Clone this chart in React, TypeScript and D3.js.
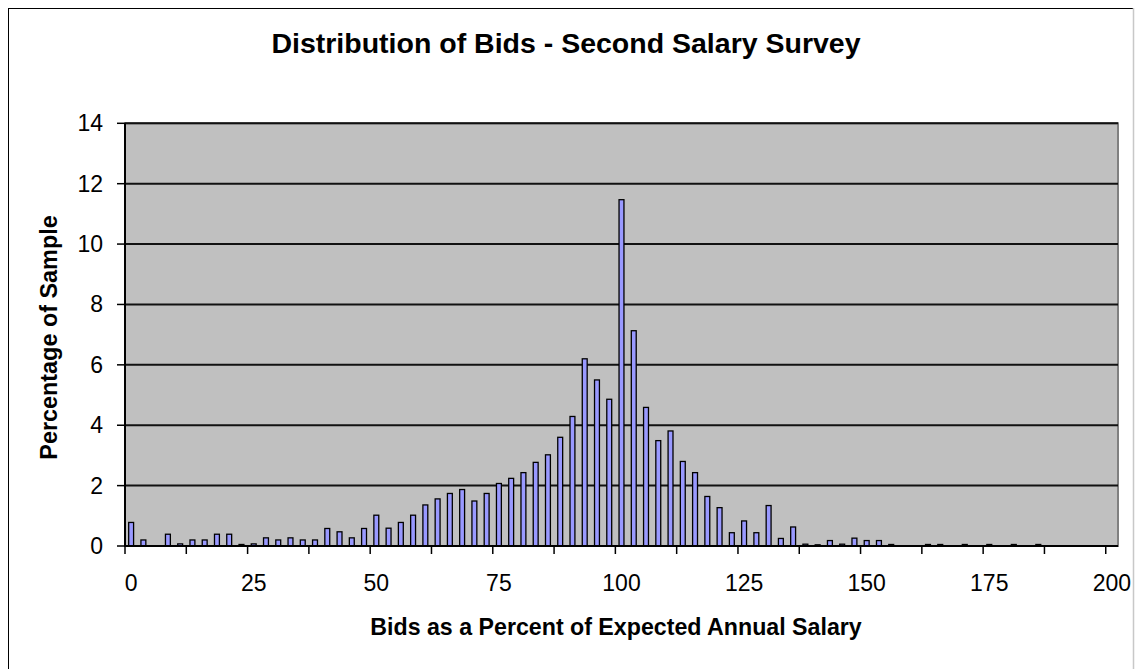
import React from "react";
import * as d3 from "d3";

// bids as % of expected salary, one category per 2.5 points
const categories = [
  0, 2.5, 5, 7.5, 10, 12.5, 15, 17.5, 20, 22.5, 25, 27.5, 30, 32.5, 35, 37.5, 40, 42.5, 45, 47.5,
  50, 52.5, 55, 57.5, 60, 62.5, 65, 67.5, 70, 72.5, 75, 77.5, 80, 82.5, 85, 87.5, 90, 92.5, 95, 97.5,
  100, 102.5, 105, 107.5, 110, 112.5, 115, 117.5, 120, 122.5, 125, 127.5, 130, 132.5, 135, 137.5, 140, 142.5, 145, 147.5,
  150, 152.5, 155, 157.5, 160, 162.5, 165, 167.5, 170, 172.5, 175, 177.5, 180, 182.5, 185, 187.5, 190, 192.5, 195, 197.5,
  200,
];

// percentage of sample
const percentages = [
  0.78, 0.2, 0, 0.39, 0.07, 0.2, 0.2, 0.39, 0.39, 0.05, 0.07, 0.27, 0.2, 0.27, 0.2, 0.2, 0.58, 0.47, 0.27, 0.58,
  1.02, 0.59, 0.78, 1.02, 1.36, 1.56, 1.74, 1.87, 1.49, 1.74, 2.07, 2.24, 2.43, 2.77, 3.02, 3.6, 4.29, 6.2, 5.5, 4.86,
  11.47, 7.13, 4.59, 3.49, 3.81, 2.8, 2.43, 1.64, 1.27, 0.44, 0.83, 0.44, 1.34, 0.25, 0.63, 0.06, 0.04, 0.18, 0.06, 0.26,
  0.18, 0.18, 0.05, 0, 0, 0.05, 0.05, 0, 0.05, 0, 0.05, 0, 0.05, 0, 0.05, 0, 0, 0, 0, 0,
  0,
];

const yTicks = [0, 2, 4, 6, 8, 10, 12, 14];
const xTickLabels = ["0", "25", "50", "75", "100", "125", "150", "175", "200"];

const W = 1135;
const H = 669;
const plot = { left: 125, right: 1118, top: 123.3, bottom: 546 };
const font = "'Liberation Sans', Arial, sans-serif";

export default function App() {
  const x = d3
    .scaleBand<number>()
    .domain(categories)
    .range([plot.left, plot.right])
    .padding(0);
  const step = x.step();
  const barW = step * 0.4;

  const y = d3.scaleLinear().domain([0, 14]).range([plot.bottom, plot.top]);

  // tick marks every 5 categories, labels every 10
  const tickCats = categories.filter((_, i) => i % 5 === 0);
  const labelCats = categories.filter((_, i) => i % 10 === 0);

  return (
    <svg
      width={W}
      height={H}
      style={{ position: "absolute", left: 0, top: 0, background: "#fff" }}
    >
      <rect x={8.5} y={8.5} width={1125} height={700} fill="#fff" stroke="#000" strokeWidth={1} />
      <line x1={1133.5} x2={1133.5} y1={8} y2={H} stroke="#c8c8c8" strokeWidth={1.5} />

      <text
        x={566}
        y={53}
        textAnchor="middle"
        fontFamily={font}
        fontWeight="bold"
        fontSize={28.5}
      >
        Distribution of Bids - Second Salary Survey
      </text>

      {/* plot area */}
      <rect
        x={plot.left}
        y={plot.top}
        width={plot.right - plot.left}
        height={plot.bottom - plot.top}
        fill="#c0c0c0"
        stroke="#808080"
        strokeWidth={2}
      />

      {yTicks.slice(1).map((t) => (
        <line
          key={"g" + t}
          x1={plot.left}
          x2={plot.right}
          y1={y(t)}
          y2={y(t)}
          stroke="#111"
          strokeWidth={2}
        />
      ))}

      {categories.map((c, i) =>
        percentages[i] > 0 ? (
          <rect
            key={"b" + c}
            x={(x(c) as number) + (step - barW) / 2}
            y={y(percentages[i])}
            width={barW}
            height={y(0) - y(percentages[i])}
            fill="#9999ff"
            stroke="#000"
            strokeWidth={1.3}
          />
        ) : null
      )}

      {/* axes */}
      <line x1={plot.left} x2={plot.left} y1={plot.top} y2={plot.bottom + 1} stroke="#000" strokeWidth={2} />
      <line x1={plot.left} x2={plot.right} y1={plot.bottom} y2={plot.bottom} stroke="#000" strokeWidth={2} />

      {yTicks.map((t) => (
        <g key={"y" + t}>
          <line x1={plot.left - 8} x2={plot.left} y1={y(t)} y2={y(t)} stroke="#000" strokeWidth={1.5} />
          <text
            x={103}
            y={y(t) + 8}
            textAnchor="end"
            fontFamily={font}
            fontSize={23}
          >
            {t}
          </text>
        </g>
      ))}

      {tickCats.map((c) => (
        <line
          key={"xt" + c}
          x1={x(c)}
          x2={x(c)}
          y1={plot.bottom}
          y2={plot.bottom + 8}
          stroke="#000"
          strokeWidth={1.5}
        />
      ))}

      {labelCats.map((c, i) => (
        <text
          key={"xl" + c}
          x={(x(c) as number) + step / 2}
          y={591}
          textAnchor="middle"
          fontFamily={font}
          fontSize={23}
        >
          {xTickLabels[i]}
        </text>
      ))}

      <text
        x={616}
        y={635}
        textAnchor="middle"
        fontFamily={font}
        fontWeight="bold"
        fontSize={23.2}
      >
        Bids as a Percent of Expected Annual Salary
      </text>

      <text
        transform={`translate(56.5, 337.5) rotate(-90)`}
        textAnchor="middle"
        fontFamily={font}
        fontWeight="bold"
        fontSize={23.4}
      >
        Percentage of Sample
      </text>
    </svg>
  );
}
